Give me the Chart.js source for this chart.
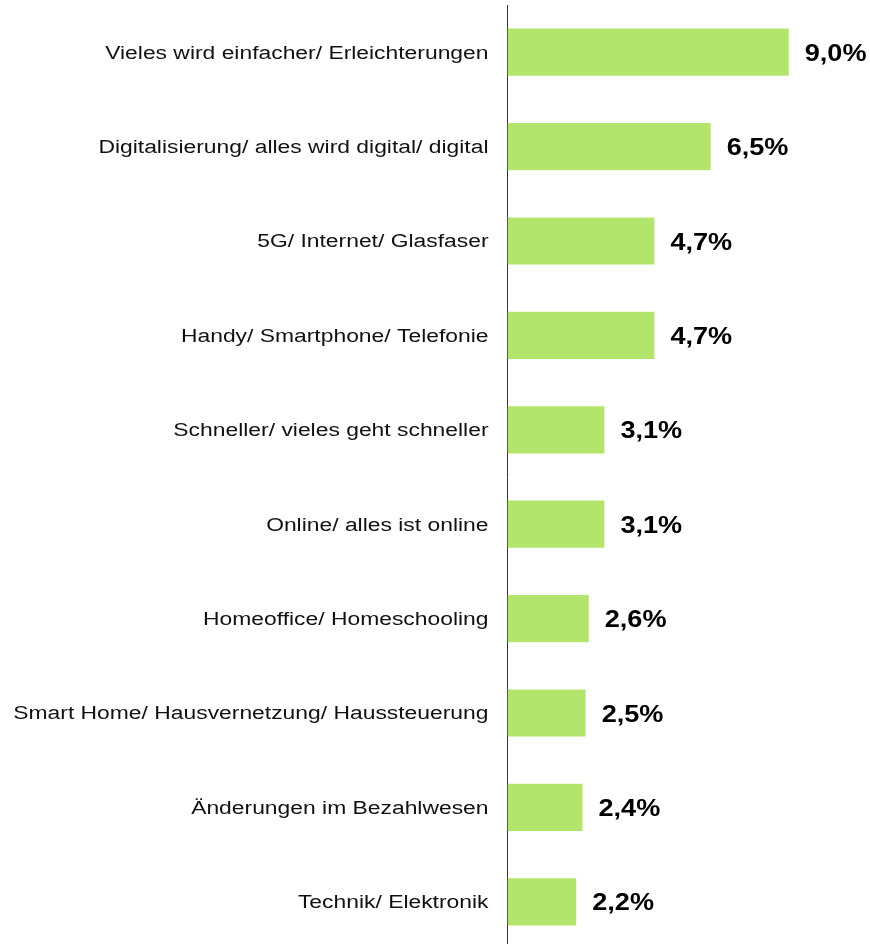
<!DOCTYPE html>
<html>
<head>
<meta charset="utf-8">
<script src="https://cdn.jsdelivr.net/npm/chart.js@4.4.1/dist/chart.umd.min.js"></script>
<style>
  html, body { margin: 0; padding: 0; background: #fff; overflow: hidden; }
  #wrap { position: relative; width: 870px; height: 950px; }
</style>
</head>
<body>
<div id="wrap"><canvas id="trendChart"></canvas></div>
<script>
const categories = [
  'Vieles wird einfacher/ Erleichterungen',
  'Digitalisierung/ alles wird digital/ digital',
  '5G/ Internet/ Glasfaser',
  'Handy/ Smartphone/ Telefonie',
  'Schneller/ vieles geht schneller',
  'Online/ alles ist online',
  'Homeoffice/ Homeschooling',
  'Smart Home/ Hausvernetzung/ Haussteuerung',
  'Änderungen im Bezahlwesen',
  'Technik/ Elektronik'
];
const values = [9.0, 6.5, 4.7, 4.7, 3.1, 3.1, 2.6, 2.5, 2.4, 2.2];
const valueLabels = ['9,0%', '6,5%', '4,7%', '4,7%', '3,1%', '3,1%', '2,6%', '2,5%', '2,4%', '2,2%'];

const fontFamily = '"Liberation Sans", Arial, Helvetica, sans-serif';

// the original text looks horizontally stretched, so widen the category labels
const stretchPlugin = {
  id: 'stretchLabels',
  beforeDraw(chart) {
    const y = chart.scales.y;
    if (y._wrapped) return;
    const orig = y.drawLabels;
    y.drawLabels = function (area) {
      const ctx = this.ctx;
      const ax = this.right - this.options.ticks.padding;
      ctx.save();
      ctx.translate(ax, 1.5);
      ctx.scale(1.27, 1);
      ctx.translate(-ax, 0);
      orig.call(this, area);
      ctx.restore();
    };
    y._wrapped = true;
  }
};

// percentages to the right of each bar
const valuePlugin = {
  id: 'valueLabels',
  afterDatasetsDraw(chart) {
    const ctx = chart.ctx;
    const meta = chart.getDatasetMeta(0);
    ctx.font = 'bold 24px ' + fontFamily;
    ctx.fillStyle = '#000';
    ctx.textAlign = 'left';
    ctx.textBaseline = 'middle';
    meta.data.forEach(function (bar, i) {
      const x = bar.x + 16;
      ctx.save();
      ctx.translate(x, 0);
      ctx.scale(1.13, 1);
      ctx.fillText(valueLabels[i], 0, bar.y + 2);
      ctx.restore();
    });
  }
};

new Chart(document.getElementById('trendChart'), {
  type: 'bar',
  data: {
    labels: categories,
    datasets: [{
      data: values,
      backgroundColor: '#b3e56c',
      borderWidth: 0,
      barPercentage: 0.5,
      categoryPercentage: 1.0
    }]
  },
  options: {
    indexAxis: 'y',
    responsive: true,
    maintainAspectRatio: false,
    animation: false,
    layout: { padding: { top: 5, bottom: 1, left: 0, right: 0 } },
    plugins: {
      legend: { display: false },
      tooltip: { enabled: false }
    },
    scales: {
      x: {
        min: 0,
        max: 11.6,
        display: false
      },
      y: {
        afterFit: function (scale) {
          scale.width = 507.5;
          scale.paddingTop = 0;
          scale.paddingBottom = 0;
        },
        grid: { display: false, drawTicks: false },
        border: { display: true, color: '#333', width: 1 },
        ticks: {
          padding: 19,
          color: '#111',
          font: { family: fontFamily, size: 18 }
        }
      }
    }
  },
  plugins: [stretchPlugin, valuePlugin]
});
</script>
</body>
</html>
